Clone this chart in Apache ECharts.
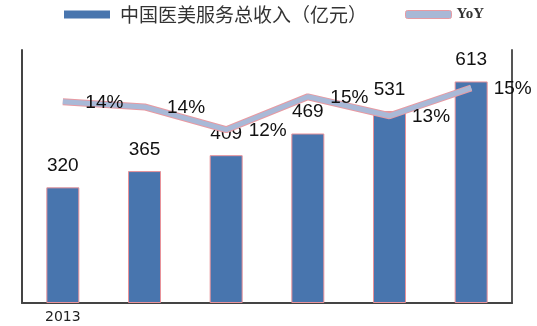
<!DOCTYPE html>
<html>
<head>
<meta charset="utf-8">
<script src="https://cdn.jsdelivr.net/npm/echarts@6/dist/echarts.min.js"></script>
<style>html,body{margin:0;padding:0;background:#fff;}#c{width:537px;height:326px;}</style>
</head>
<body>
<div id="c"></div>
<script>
var categories = ['2013', '2014', '2015', '2016', '2017', '2018'];
var revenue = [320, 365, 409, 469, 531, 613];
var yoy = [14.3, 13.9, 12.1, 14.7, 13.2, 15.4];
var barName = '中国医美服务总收入（亿元）';
var lineName = 'YoY';

var chart = echarts.init(document.getElementById('c'));
chart.setOption({
  animation: false,
  backgroundColor: '#ffffff',
  legend: {
    left: 59,
    top: 0,
    itemGap: 38,
    itemWidth: 46,
    itemHeight: 8,
    data: [
      { name: barName, icon: 'rect',
        itemStyle: { color: '#4875ae', borderWidth: 0 },
        textStyle: { fontFamily: 'Noto Sans CJK SC', fontSize: 19, color: '#333', padding: [0, 0, 0, 5] } },
      { name: lineName, icon: 'roundRect',
        itemStyle: { color: '#a8b8d6', borderColor: '#e89aa2', borderWidth: 1 },
        textStyle: { fontFamily: 'Liberation Serif', fontWeight: 'bold', fontSize: 15, color: '#333', padding: [0, 0, 0, 0] } }
    ]
  },
  grid: { left: 22, right: 25, top: 50, bottom: 23 },
  xAxis: {
    type: 'category',
    data: categories,
    axisLine: { show: true, lineStyle: { color: '#444', width: 2 } },
    axisTick: { show: false },
    axisLabel: {
      fontFamily: 'DejaVu Sans', fontSize: 14, color: '#222', margin: 7,
      formatter: function (v, i) { return i === 0 ? v : ''; }
    }
  },
  yAxis: [
    { type: 'value', min: 0, max: 700, interval: 100,
      axisLine: { show: true, lineStyle: { color: '#444', width: 2 } },
      axisTick: { show: false }, axisLabel: { show: false }, splitLine: { show: false } },
    { type: 'value', min: -1.6, max: 18.4, position: 'right',
      axisLine: { show: true, lineStyle: { color: '#555', width: 2 } },
      axisTick: { show: false }, axisLabel: { show: false }, splitLine: { show: false } }
  ],
  series: [
    {
      name: barName, type: 'bar', data: revenue, barWidth: 33,
      itemStyle: { color: '#4875ae', borderColor: '#e8929a', borderWidth: 1 },
      label: { show: true, position: 'top', distance: 12,
        fontFamily: 'Liberation Sans', fontSize: 19, color: '#111' }
    },
    {
      name: lineName, type: 'line', yAxisIndex: 1, data: yoy,
      symbol: 'none', z: 3,
      lineStyle: { color: '#e89aa2', width: 7 },
      itemStyle: { color: '#a8b8d6' }
    },
    {
      name: 'yoyInner', type: 'line', yAxisIndex: 1, data: yoy,
      symbol: 'circle', symbolSize: 1, z: 4,
      lineStyle: { color: '#a9b9d7', width: 5 },
      itemStyle: { color: 'rgba(0,0,0,0)' },
      label: { show: true, position: 'right', distance: 22, offset: [0, 1],
        fontFamily: 'Liberation Sans', fontSize: 19, color: '#111',
        formatter: function (p) { return Math.round(p.value) + '%'; } }
    }
  ]
});
</script>
</body>
</html>
